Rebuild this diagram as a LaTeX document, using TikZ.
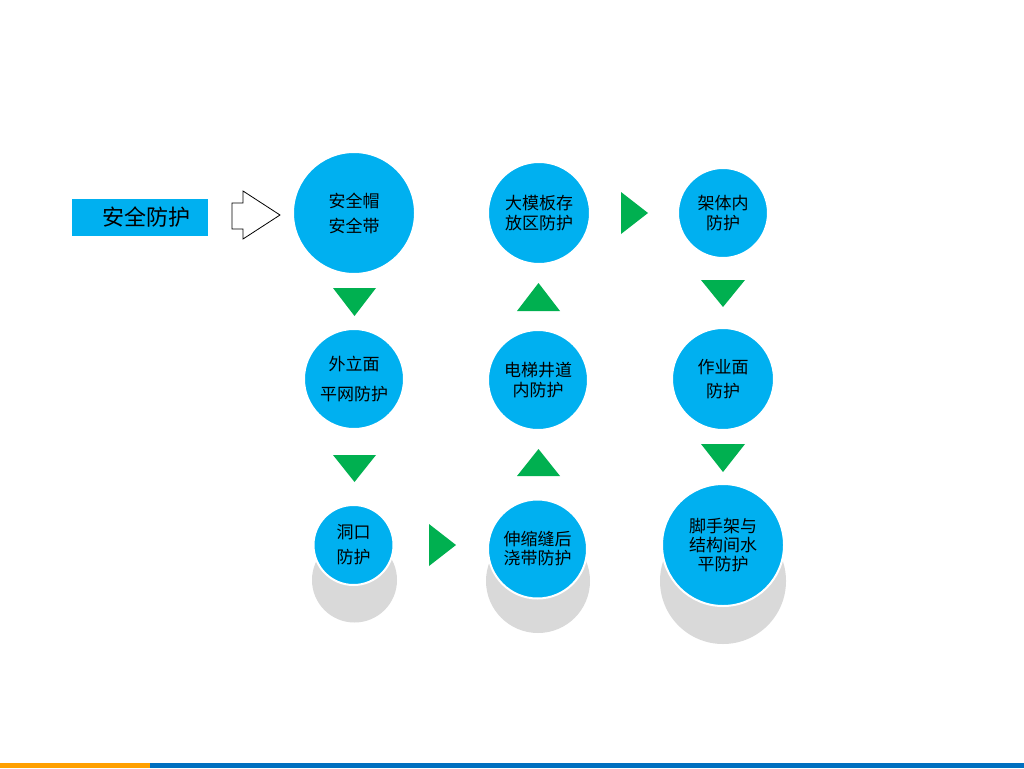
\documentclass[tikz,border=0pt]{standalone}
\usepackage{fontspec}
\newfontfamily\cjk{Noto Sans CJK SC}
\definecolor{cblue}{HTML}{00B0F0}
\definecolor{cgreen}{HTML}{00B050}
\definecolor{cgray}{HTML}{D9D9D9}
\definecolor{corange}{HTML}{FFA000}
\definecolor{cbar}{HTML}{0070C0}
\begin{document}
\begin{tikzpicture}[x=1pt,y=-1pt,
  bubble/.style={circle,fill=cblue,draw=white,line width=2pt,inner sep=0pt,align=center,text=black},
  shadowc/.style={circle,fill=cgray,inner sep=0pt,draw=none},
  tri/.style={fill=cgreen,draw=none}]
\useasboundingbox (0,0) rectangle (1024,768);
\fill[white] (0,0) rectangle (1024,768);
% bottom bar
\fill[corange] (0,763) rectangle (150,768);
\fill[cbar] (150,763) rectangle (1024,768);
% label
\node[fill=cblue,minimum width=136pt,minimum height=37pt,inner sep=0pt,anchor=center] (lab) at (140,217) {};
\node[font=\cjk\fontsize{22}{24}\selectfont,inner sep=0pt] (labt) at (146,217) {安全防护};
% block arrow
\draw[black,line width=0.8pt,line join=miter] (232,203) -- (243,203) -- (243,191) -- (280,215) -- (243,239) -- (243,229) -- (232,229) -- cycle;
% shadows
\node[shadowc,minimum size=85pt] (s3) at (354.5,580) {};
\node[shadowc,minimum size=104pt] (s4) at (538,581) {};
\node[shadowc,minimum size=126pt] (s5) at (723,581) {};
% circles
\node[bubble,minimum size=122pt,font=\cjk\fontsize{17}{25}\selectfont] (c1) at (354,213) {安全帽\\安全带};
\node[bubble,minimum size=100pt,font=\cjk\fontsize{17}{30}\selectfont] (c2) at (354,379) {外立面\\平网防护};
\node[bubble,minimum size=80pt,font=\cjk\fontsize{17}{25}\selectfont] (c3) at (353.5,545) {洞口\\防护};
\node[bubble,minimum size=99pt,font=\cjk\fontsize{17}{19}\selectfont] (c4) at (537.5,549) {伸缩缝后\\浇带防护};
\node[bubble,minimum size=122pt,font=\cjk\fontsize{17}{19}\selectfont] (c5) at (723,545) {脚手架与\\结构间水\\平防护};
\node[bubble,minimum size=100pt,font=\cjk\fontsize{17}{20}\selectfont] (c6) at (538,380) {电梯井道\\内防护};
\node[bubble,minimum size=102pt,font=\cjk\fontsize{17}{20}\selectfont] (c7) at (539,213) {大模板存\\放区防护};
\node[bubble,minimum size=90pt,font=\cjk\fontsize{17}{20}\selectfont] (c8) at (723,213) {架体内\\防护};
\node[bubble,minimum size=102pt,font=\cjk\fontsize{17}{24}\selectfont] (c9) at (723,379) {作业面\\防护};
% triangles
\fill[tri] (333,288) -- (376,288) -- (354.5,316) -- cycle;
\fill[tri] (333,455) -- (376,455) -- (354.5,482) -- cycle;
\fill[tri] (429,524) -- (456,545) -- (429,566) -- cycle;
\fill[tri] (517,476) -- (560,476) -- (538.5,449) -- cycle;
\fill[tri] (517,311) -- (560,311) -- (538.5,283) -- cycle;
\fill[tri] (621,192) -- (648,213) -- (621,234) -- cycle;
\fill[tri] (701,280) -- (745,280) -- (723,307) -- cycle;
\fill[tri] (701,444) -- (745,444) -- (723,472) -- cycle;
\end{tikzpicture}
\end{document}
